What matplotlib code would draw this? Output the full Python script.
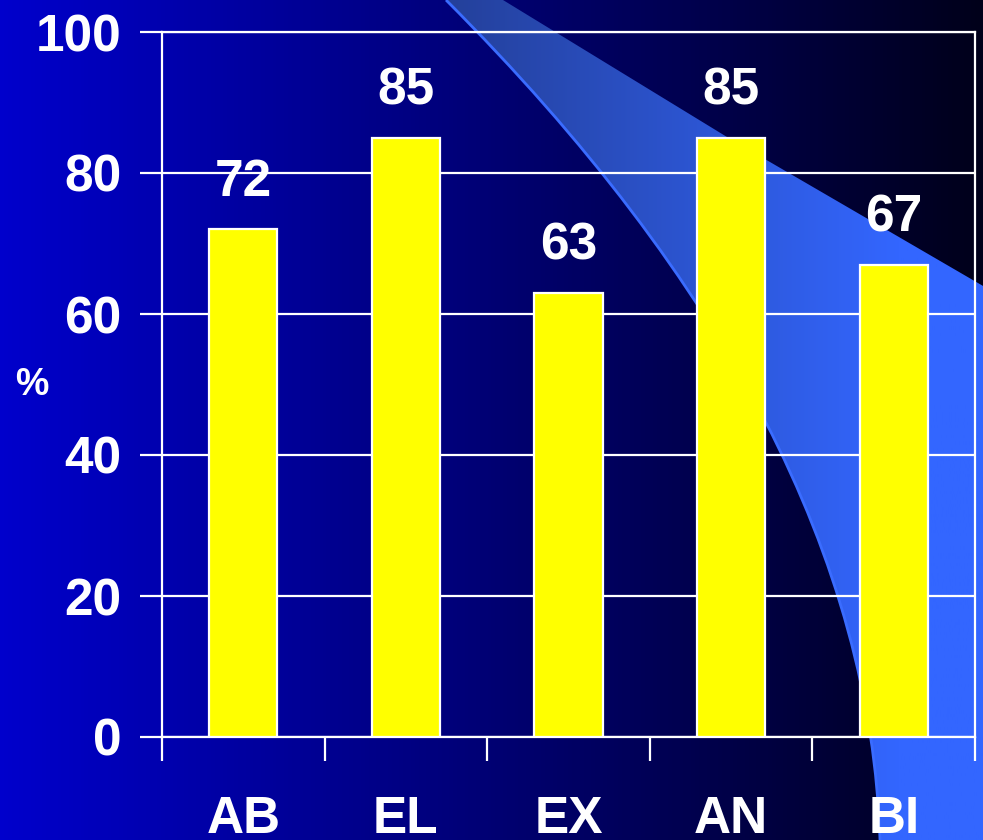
import numpy as np
import matplotlib
matplotlib.use("Agg")
import matplotlib.pyplot as plt
from matplotlib.path import Path
from matplotlib.patches import PathPatch
from matplotlib.colors import to_rgb

# data
categories = ["AB", "EL", "EX", "AN", "BI"]
values = [72, 85, 63, 85, 67]
yticks = [0, 20, 40, 60, 80, 100]

plt.rcParams["font.family"] = ["Liberation Sans", "DejaVu Sans"]
plt.rcParams["font.weight"] = "bold"

W, H = 983, 840
fig = plt.figure(figsize=(W / 100, H / 100), dpi=100)

# background: blue -> near black gradient, in pixel coords
bg = fig.add_axes([0, 0, 1, 1])
bg.set_xlim(0, W)
bg.set_ylim(H, 0)
bg.axis("off")
c0 = np.array(to_rgb("#0000cc"))
c1 = np.array(to_rgb("#00001a"))
t = np.linspace(0, 1, 256)[None, :, None]
grad = c0 * (1 - t) + c1 * t
bg.imshow(grad, extent=[0, W, H, 0], aspect="auto", zorder=0)

# light blue swoosh
verts = [(446, 0), (867, 421), (880, 840), (990, 840), (990, 290),
         (727, 137), (503, 0), (446, 0)]
codes = [Path.MOVETO, Path.CURVE3, Path.CURVE3, Path.LINETO, Path.LINETO,
         Path.LINETO, Path.LINETO, Path.CLOSEPOLY]
swoosh = PathPatch(Path(verts, codes), facecolor="none", edgecolor="none")
bg.add_patch(swoosh)
s0 = np.array(to_rgb("#24409a"))
s1 = np.array(to_rgb("#3366ff"))
u = np.clip((np.linspace(0, W, 512) - 446) / (900 - 446), 0, 1)[None, :, None]
sgrad = s0 * (1 - u) + s1 * u
im = bg.imshow(sgrad, extent=[0, W, H, 0], aspect="auto", zorder=1)
im.set_clip_path(swoosh)
edge = Path([(446, 0), (867, 421), (880, 840)],
            [Path.MOVETO, Path.CURVE3, Path.CURVE3])
bg.add_patch(PathPatch(edge, facecolor="none", edgecolor="#3a6cff", lw=2, zorder=2))

# main chart
ax = fig.add_axes([162 / W, 1 - 737 / H, (975 - 162) / W, (737 - 32) / H])
ax.patch.set_alpha(0)
x = np.arange(len(categories))
bars = ax.bar(x, values, width=0.42, color="#ffff00", edgecolor="white",
              linewidth=1.6, zorder=3)
for xi, v in zip(x, values):
    ax.annotate(str(v), (xi, v), xytext=(0, 16), textcoords="offset points",
                ha="center", va="bottom", color="white", fontsize=37,
                fontweight="bold")

ax.set_xlim(-0.5, len(categories) - 0.5)
ax.set_ylim(0, 100)
ax.set_yticks(yticks)
ax.set_yticklabels([str(v) for v in yticks])
ax.set_xticks(np.arange(len(categories) + 1) - 0.5)
ax.set_xticklabels([])
ax.set_xticks(x, minor=True)
ax.set_xticklabels(categories, minor=True)
ax.tick_params(axis="x", which="major", length=17, width=1.6, color="white",
               direction="out")
ax.tick_params(axis="x", which="minor", length=0, pad=42, labelsize=37,
               labelcolor="white")
ax.tick_params(axis="y", length=16, width=1.6, color="white", pad=13,
               labelsize=37, labelcolor="white")
ax.yaxis.grid(True, color="white", lw=1.6, zorder=1)
ax.set_axisbelow(True)
for sp in ax.spines.values():
    sp.set_color("white")
    sp.set_linewidth(1.6)
for lab in ax.get_xticklabels(minor=True) + ax.get_yticklabels():
    lab.set_fontweight("bold")

fig.text(32 / W, 1 - 385 / H, "%", color="white", fontsize=27,
         fontweight="bold", ha="center", va="center")

fig.savefig("out.png", dpi=100)
